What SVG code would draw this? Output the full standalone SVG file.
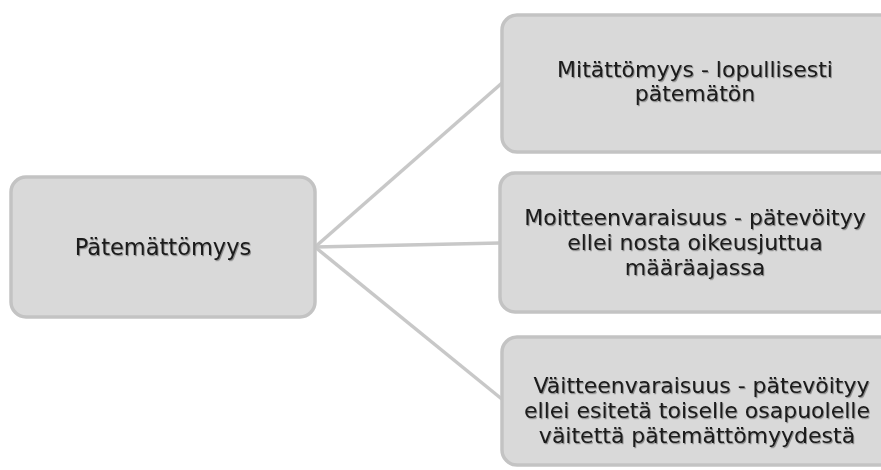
<svg xmlns="http://www.w3.org/2000/svg" width="881" height="470" viewBox="0 0 881 470">
<defs>
<style>
.box{fill:#d9d9d9;stroke:#c3c3c3;stroke-width:3.5}
.t{font-family:"DejaVu Sans",sans-serif;font-size:22px;fill:#1a1a1a;text-anchor:middle;filter:url(#sh)}
.big{font-size:22.5px}
.c{stroke:#c8c8c8;stroke-width:3.5;fill:none}
</style>
<filter id="sh" x="-10%" y="-30%" width="120%" height="160%">
<feDropShadow dx="1" dy="1.2" stdDeviation="0.6" flood-color="#000" flood-opacity="0.35"/>
</filter>
</defs>
<rect width="881" height="470" fill="#fff"/>
<g id="connectors">
<line class="c" x1="315" y1="247" x2="502" y2="83"/>
<line class="c" x1="315" y1="247" x2="500" y2="243"/>
<line class="c" x1="315" y1="247" x2="503" y2="400"/>
</g>
<g id="root">
<rect class="box" x="11" y="177" width="304" height="140" rx="15"/>
<text class="t big" x="163" y="255">Pätemättömyys</text>
</g>
<g id="n1">
<rect class="box" x="502" y="15" width="394" height="137" rx="15"/>
<text class="t" x="695" y="77">Mitättömyys - lopullisesti</text>
<text class="t" x="695" y="101">pätemätön</text>
</g>
<g id="n2">
<rect class="box" x="500" y="173" width="396" height="139" rx="15"/>
<text class="t" x="695" y="225">Moitteenvaraisuus - pätevöityy</text>
<text class="t" x="695" y="250">ellei nosta oikeusjuttua</text>
<text class="t" x="695" y="275">määräajassa</text>
</g>
<g id="n3">
<rect class="box" x="502" y="337" width="394" height="128" rx="15"/>
<text class="t" x="698" y="393" xml:space="preserve"> Väitteenvaraisuus - pätevöityy</text>
<text class="t" x="697" y="418">ellei esitetä toiselle osapuolelle</text>
<text class="t" x="697" y="443">väitettä pätemättömyydestä</text>
</g>
</svg>
